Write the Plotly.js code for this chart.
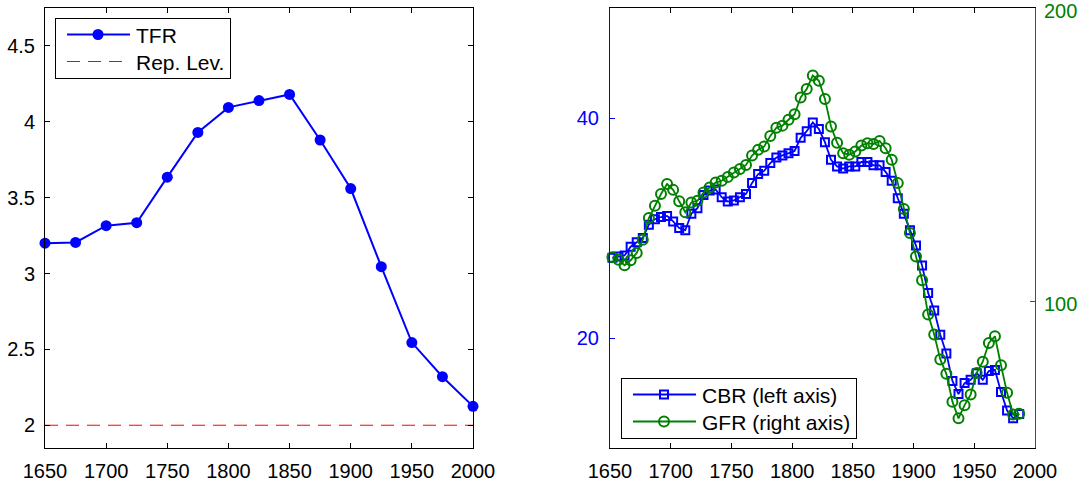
<!DOCTYPE html>
<html><head><meta charset="utf-8">
<script src="https://cdn.plot.ly/plotly-3.0.1.min.js"></script>
<style>html,body{margin:0;padding:0;background:#fff}#chart{width:1086px;height:482px}</style>
</head><body><div id="chart"></div>
<script>
// ---- Left panel data ----
const tfrYears = [1650,1675,1700,1725,1750,1775,1800,1825,1850,1875,1900,1925,1950,1975,2000];
const tfrValues = [3.20,3.205,3.315,3.335,3.635,3.93,4.095,4.14,4.18,3.88,3.56,3.045,2.545,2.32,2.125];
const repYears = [1650,2000];
const repValues = [2,2];

// ---- Right panel data ----
const rateYears = [1652,1657,1662,1667,1672,1677,1682,1687,1692,1697,
  1702,1707,1712,1717,1722,1727,1732,1737,1742,1747,
  1752,1757,1762,1767,1772,1777,1782,1787,1792,1797,
  1802,1807,1812,1817,1822,1827,1832,1837,1842,1847,
  1852,1857,1862,1867,1872,1877,1882,1887,1892,1897,
  1902,1907,1912,1917,1922,1927,1932,1937,1942,1947,
  1952,1957,1962,1967,1972,1977,1982,1987];
const cbrValues = [27.3,27.4,27.5,28.3,28.7,29.1,30.3,30.8,31.0,31.1,
  30.6,30.0,29.8,31.3,31.8,33.0,33.4,33.5,32.8,32.4,
  32.5,32.8,33.1,34.1,34.9,35.2,35.9,36.4,36.6,36.8,
  37.0,38.2,38.8,39.6,39.0,37.8,36.2,35.6,35.4,35.6,
  35.6,36.0,36.0,35.7,35.7,35.1,34.3,32.7,31.3,29.8,
  28.4,26.6,24.1,22.5,20.3,18.6,16.1,14.9,15.9,16.2,
  16.8,16.2,17.0,17.1,15.1,13.4,12.7,13.1];
const gfrValues = [115.0,114.2,112.3,114.0,116.5,121.0,128.4,132.6,136.6,140.0,
  138.0,134.1,130.4,133.7,134.3,137.1,138.8,140.5,141.1,142.4,
  143.9,145.1,146.5,149.7,151.7,152.8,156.4,159.2,159.9,161.9,
  163.8,169.5,172.4,177.0,175.2,169.0,159.6,154.1,150.5,150.0,
  151.1,153.1,153.9,153.6,154.7,152.2,148.3,140.3,131.5,123.3,
  115.3,107.2,95.5,88.7,80.2,75.3,65.8,60.1,64.6,68.2,
  75.6,79.4,85.8,88.1,78.2,68.8,61.4,61.7];

// ---- Tick labels ----
const xTickVals = [1650,1700,1750,1800,1850,1900,1950,2000];
const xTickText = ['1650','1700','1750','1800','1850','1900','1950','2000'];
const tfrTickVals = [2,2.5,3,3.5,4,4.5];
const tfrTickText = ['2','2.5','3','3.5','4','4.5'];
const cbrTickVals = [20,40];
const cbrTickText = ['20','40'];
const gfrTickVals = [100,200];
const gfrTickText = ['100','200'];

const FONT = 'Liberation Sans, Arial, Helvetica, sans-serif';
const BLUE = '#0000ff', GREEN = '#008000', RED = '#ff0000';
const W = 1086, H = 482;
const TICK = 20, LEG = 21;

const traces = [
  {x: tfrYears, y: tfrValues, name: 'TFR', type: 'scatter', mode: 'lines+markers', cliponaxis: false,
   line: {color: BLUE, width: 2}, marker: {color: BLUE, size: 11, symbol: 'circle'},
   xaxis: 'x', yaxis: 'y', legend: 'legend'},
  {x: repYears, y: repValues, name: 'Rep. Lev.', type: 'scatter', mode: 'lines',
   line: {color: RED, width: 1, dash: '13px,8px'},
   xaxis: 'x', yaxis: 'y', legend: 'legend'},
  {x: rateYears, y: cbrValues, name: 'CBR (left axis)', type: 'scatter', mode: 'lines+markers', cliponaxis: false,
   line: {color: BLUE, width: 1.8}, marker: {color: BLUE, size: 8, symbol: 'square-open', line: {width: 2, color: BLUE}},
   xaxis: 'x2', yaxis: 'y2', legend: 'legend2'},
  {x: rateYears, y: gfrValues, name: 'GFR (right axis)', type: 'scatter', mode: 'lines+markers', cliponaxis: false,
   line: {color: GREEN, width: 1.8}, marker: {color: GREEN, size: 10, symbol: 'circle-open', line: {width: 2, color: GREEN}},
   xaxis: 'x2', yaxis: 'y3', legend: 'legend2'}
];

const yDom = [(H-448)/H, (H-8)/H];
const baseAx = {showgrid: false, zeroline: false, showline: true, ticks: 'inside', ticklen: 5,
  tickwidth: 1, linewidth: 1, fixedrange: true};

const layout = {
  width: W, height: H, margin: {l: 0, r: 0, t: 0, b: 0},
  paper_bgcolor: '#fff', plot_bgcolor: 'rgba(0,0,0,0)', showlegend: true,
  font: {family: FONT, size: TICK, color: '#000'},
  xaxis: Object.assign({}, baseAx, {domain: [45/W, 473/W], range: [1650, 2000], anchor: 'y',
    tickvals: xTickVals, ticktext: xTickText, linecolor: '#000', tickcolor: '#000', mirror: 'ticks',
    tickfont: {family: FONT, size: TICK, color: '#000'}, ticklabelstandoff: 5}),
  yaxis: Object.assign({}, baseAx, {domain: yDom, range: [1.85, 4.75], anchor: 'x',
    tickvals: tfrTickVals, ticktext: tfrTickText, linecolor: '#000', tickcolor: '#000', mirror: 'ticks',
    tickfont: {family: FONT, size: TICK, color: '#000'}, ticklabelstandoff: 5}),
  xaxis2: Object.assign({}, baseAx, {domain: [610/W, 1035/W], range: [1650, 2000], anchor: 'y2',
    tickvals: xTickVals, ticktext: xTickText, linecolor: '#000', tickcolor: '#000', mirror: 'ticks',
    tickfont: {family: FONT, size: TICK, color: '#000'}, ticklabelstandoff: 5}),
  yaxis2: Object.assign({}, baseAx, {domain: yDom, range: [10, 50], anchor: 'x2',
    tickvals: cbrTickVals, ticktext: cbrTickText, linecolor: BLUE, tickcolor: BLUE, mirror: false,
    tickfont: {family: FONT, size: TICK, color: BLUE}, ticklabelstandoff: 6}),
  yaxis3: Object.assign({}, baseAx, {domain: yDom, range: [50, 200], anchor: 'x2', overlaying: 'y2', side: 'right',
    tickvals: gfrTickVals, ticktext: gfrTickText, linecolor: GREEN, tickcolor: GREEN,
    ticklabeloverflow: 'allow', ticklabelshift: 3,
    tickfont: {family: FONT, size: TICK, color: GREEN}, ticklabelstandoff: 4}),
  yaxis4: Object.assign({}, baseAx, {domain: yDom, range: [10, 50], anchor: 'x2', overlaying: 'y2', side: 'right',
    tickvals: cbrTickVals, showticklabels: false, showline: false, tickcolor: BLUE}),
  legend: {x: 55/W, y: 1 - 18/H, xanchor: 'left', yanchor: 'top', bgcolor: '#fff',
    bordercolor: '#000', borderwidth: 1, font: {family: FONT, size: LEG, color: '#000'},
    itemwidth: 70, tracegroupgap: 0},
  legend2: {x: 621/W, y: 1 - 378/H, xanchor: 'left', yanchor: 'top', bgcolor: '#fff',
    bordercolor: '#000', borderwidth: 1, font: {family: FONT, size: LEG, color: '#000'},
    itemwidth: 70, tracegroupgap: 0}
};

Plotly.newPlot('chart', traces, layout, {staticPlot: true, displayModeBar: false}).then(function (gd) {
  // MATLAB-like legend proportions: longer line samples, tighter rows
  gd.querySelectorAll('.legendlines path').forEach(function (p) { p.setAttribute('d', 'M11,0h63'); });
  gd.querySelectorAll('.legendpoints path.scatterpts').forEach(function (p) {
    p.setAttribute('transform', 'translate(42,0)');
  });
  ['legend', 'legend2'].forEach(function (id) {
    var g = gd.querySelector('g.' + id);
    if (!g) return;
    var rows = [16.5, 43.5];
    g.querySelectorAll('g.traces').forEach(function (it, i) {
      var tr = it.getAttribute('transform') || '';
      var m = /translate\(\s*([-\d.]+)[ ,]+([-\d.]+)\s*\)/.exec(tr);
      var x = m ? parseFloat(m[1]) : 1;
      if (i < rows.length) it.setAttribute('transform', 'translate(' + x + ',' + rows[i] + ')');
    });
    var bg = g.querySelector('rect.bg');
    if (bg) bg.setAttribute('height', 60);
  });
});
</script>
</body></html>
